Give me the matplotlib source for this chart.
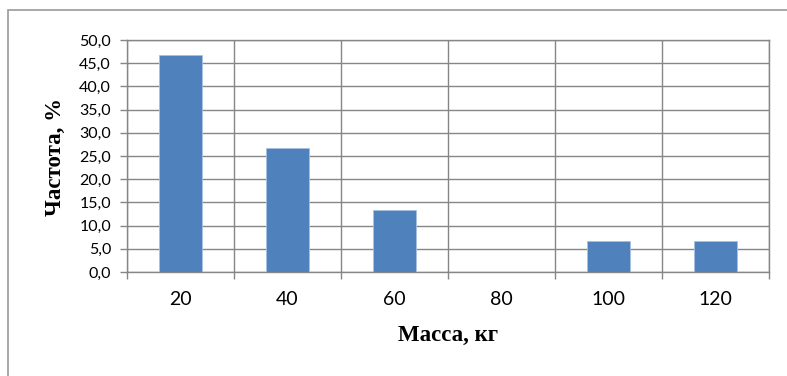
import matplotlib.pyplot as plt
from matplotlib.patches import Rectangle
from matplotlib.ticker import FuncFormatter, MultipleLocator

masses = ['20', '40', '60', '80', '100', '120']
freq = [46.7, 26.7, 13.3, 0.0, 6.7, 6.7]

grid_col = '#868686'
bar_col = '#4F81BD'

fig = plt.figure(figsize=(7.87, 3.76), dpi=100)

# frame around the whole chart (right and bottom edges fall outside the image)
fig.patches.append(Rectangle((8 / 787, -0.1), 1.2, 1 - 10 / 376 + 0.1,
                             transform=fig.transFigure, fill=False,
                             edgecolor='#9a9a9a', linewidth=1.2))

ax = fig.add_axes([127 / 787, 104 / 376, 642 / 787, 232 / 376])

x = range(len(masses))
ax.bar(x, freq, width=0.4, color=bar_col, edgecolor='#a9c1e0', linewidth=0.6, zorder=3)

ax.set_xlim(-0.5, len(masses) - 0.5)
ax.set_ylim(0, 50)
ax.yaxis.set_major_locator(MultipleLocator(5))
ax.yaxis.set_major_formatter(FuncFormatter(lambda v, p: f'{v:.1f}'.replace('.', ',')))

ax.set_xticks(list(x))
ax.set_xticklabels(masses)
ax.set_xticks([i - 0.5 for i in range(len(masses) + 1)], minor=True)

ax.grid(axis='y', which='major', color=grid_col, linewidth=1.0, zorder=0)
ax.grid(axis='x', which='minor', color=grid_col, linewidth=1.0, zorder=0)

ax.tick_params(axis='x', which='major', length=0, pad=14, labelsize=14)
ax.tick_params(axis='x', which='minor', length=5, color=grid_col, width=1.0)
ax.tick_params(axis='y', length=5, color=grid_col, width=1.0, pad=6.5, labelsize=11.5)
for lab in ax.get_xticklabels() + ax.get_yticklabels():
    lab.set_fontfamily('Lato')

for s in ax.spines.values():
    s.set_color(grid_col)
    s.set_linewidth(1.0)

ax.set_ylabel('Частота, %', fontfamily='Liberation Serif', fontweight='bold', fontsize=16.5)
ax.yaxis.label.set_va('center')
ax.yaxis.set_label_coords(-0.112, 0.494)

ax.set_xlabel('Масса, кг', fontfamily='Liberation Serif', fontweight='bold', fontsize=16.5)
ax.xaxis.label.set_va('center')
ax.xaxis.set_label_coords(0.5, -0.272)

fig.savefig('out.png', dpi=100)
